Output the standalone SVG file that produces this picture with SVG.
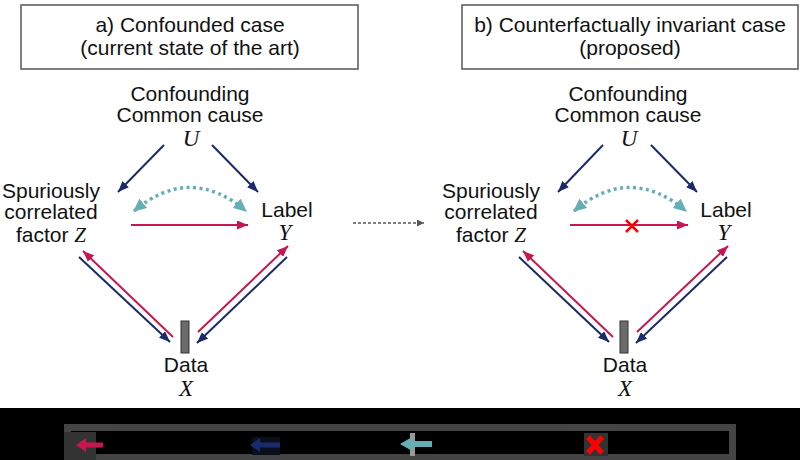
<svg xmlns="http://www.w3.org/2000/svg" width="800" height="460" viewBox="0 0 800 460">
<style>
text{font-family:"Liberation Sans",Arial,sans-serif;font-size:21px;fill:#111;text-anchor:middle}
.v{font-family:"Liberation Serif","Times New Roman",serif;font-style:italic;font-size:23px}
.vi{font-family:"Liberation Serif","Times New Roman",serif;font-style:italic;font-size:21px}
.box{fill:#fff;stroke:#555;stroke-width:1.5}
.nv{stroke:#1a2b6b;stroke-width:2;fill:none;marker-end:url(#hn)}
.rd{stroke:#c8164e;stroke-width:2;fill:none;marker-end:url(#hr)}
.tl{stroke:#66aeb5;stroke-width:3.5;fill:none;stroke-dasharray:3 3.5;marker-start:url(#ht);marker-end:url(#ht)}
.bar{fill:#6b6b6b;stroke:#333;stroke-width:1}
</style>
<defs>
<marker id="hn" markerUnits="userSpaceOnUse" markerWidth="11" markerHeight="9" refX="11" refY="4.5" orient="auto"><path d="M0,0 L11,4.5 L0,9 z" fill="#1a2b6b"/></marker>
<marker id="hr" markerUnits="userSpaceOnUse" markerWidth="11" markerHeight="9" refX="11" refY="4.5" orient="auto"><path d="M0,0 L11,4.5 L0,9 z" fill="#c8164e"/></marker>
<marker id="ht" markerUnits="userSpaceOnUse" markerWidth="13" markerHeight="12" refX="12" refY="6" orient="auto-start-reverse"><path d="M0,0 L13,6 L0,12 z" fill="#66aeb5"/></marker>
<marker id="hg" markerUnits="userSpaceOnUse" markerWidth="7" markerHeight="7" refX="7" refY="3.5" orient="auto"><path d="M0,0 L7,3.5 L0,7 z" fill="#555"/></marker>
</defs>
<rect width="800" height="460" fill="#fff"/>

<g id="title-a"><rect class="box" x="21" y="5" width="337" height="64"/><text x="190" y="32">a) Confounded case</text><text x="190" y="55">(current state of the art)</text></g>
<g id="title-b"><rect class="box" x="462" y="5" width="336" height="64"/><text x="630" y="32">b) Counterfactually invariant case</text><text x="630" y="55">(proposed)</text></g>

<g id="a-U"><text x="190" y="101">Confounding</text><text x="190" y="122">Common cause</text><text class="v" x="191" y="146">U</text></g>
<g id="a-Z"><text x="51" y="198">Spuriously</text><text x="51" y="219">correlated</text><text x="51" y="242">factor <tspan class="vi">Z</tspan></text></g>
<g id="a-Y"><text x="287" y="217">Label</text><text class="v" x="285" y="240">Y</text></g>
<g id="a-X"><rect class="bar" x="181" y="321" width="8" height="32"/><text x="186" y="372">Data</text><text class="v" x="186" y="396">X</text></g>

<g id="b-U"><text x="628" y="101">Confounding</text><text x="628" y="122">Common cause</text><text class="v" x="629" y="146">U</text></g>
<g id="b-Z"><text x="491" y="198">Spuriously</text><text x="491" y="219">correlated</text><text x="491" y="242">factor <tspan class="vi">Z</tspan></text></g>
<g id="b-Y"><text x="726" y="217">Label</text><text class="v" x="724" y="240">Y</text></g>
<g id="b-X"><rect class="bar" x="620" y="321" width="8" height="32"/><text x="625" y="372">Data</text><text class="v" x="625" y="396">X</text></g>

<g id="connectors">
<path class="nv" d="M164,145 L118,192"/>
<path class="nv" d="M212,145 L258,192"/>
<path class="tl" d="M134,211 Q190,164 246,211"/>
<path class="rd" d="M131,225 L248,225"/>
<path class="rd" d="M173,337 L83,251"/>
<path class="nv" d="M79,257 L170,342"/>
<path class="rd" d="M198,332 L288,246"/>
<path class="nv" d="M287,257 L197,343"/>

<path class="nv" d="M603,145 L558,192"/>
<path class="nv" d="M651,145 L697,192"/>
<path class="tl" d="M574,211 Q630,164 686,211"/>
<path class="rd" d="M570,225 L688,225"/>
<path d="M626,220 L638,232 M638,220 L626,232" stroke="#f00" stroke-width="2.5"/>
<path class="rd" d="M613,337 L523,251"/>
<path class="nv" d="M519,257 L609,342"/>
<path class="rd" d="M637,332 L728,246"/>
<path class="nv" d="M727,257 L636,343"/>

<path d="M353,223 L424,223" stroke="#555" stroke-width="1.5" stroke-dasharray="3 2" fill="none" marker-end="url(#hg)"/>
</g>

<g id="legend">
<rect x="0" y="408" width="800" height="52" fill="#000"/>
<rect x="67.5" y="427.5" width="665" height="30" fill="none" stroke="#444" stroke-width="7"/>
<rect x="64" y="432" width="32" height="28" fill="#333"/>
<path d="M76,445 L86,438 L86,442.5 L103,442.5 L103,447.5 L86,447.5 L86,452 z" fill="#c8164e"/>
<rect x="252" y="437" width="28" height="18" fill="#0a0f1e"/>
<path d="M250,445 L260,438 L260,442.5 L280,442.5 L280,447.5 L260,447.5 L260,452 z" fill="#1a2b6b"/>
<rect x="410" y="433" width="5" height="23" fill="#999"/>
<path d="M400,444 L412,437 L412,441 L432,441 L432,447 L412,447 L412,451 z" fill="#66aeb5"/>
<rect x="584" y="433" width="24" height="23" fill="#333"/>
<path d="M588,437 L602,453 M602,437 L588,453" stroke="#f00" stroke-width="5"/>
</g>
</svg>
